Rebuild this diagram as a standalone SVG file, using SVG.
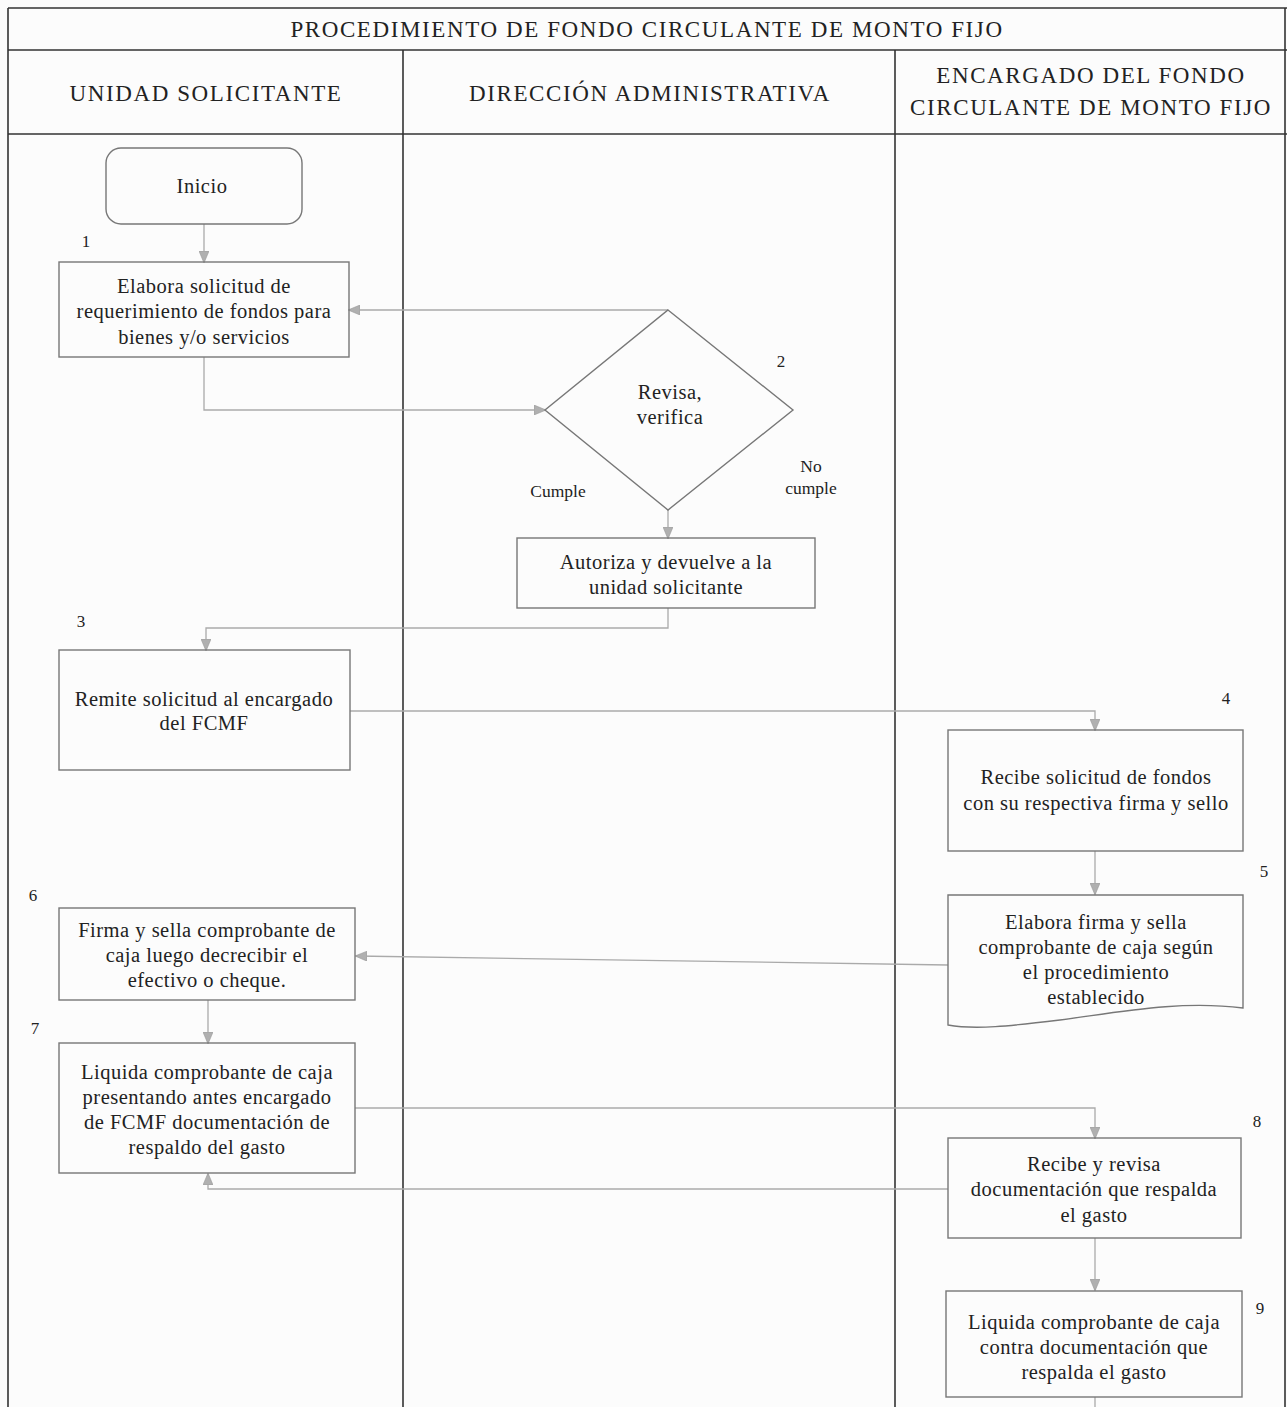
<svg xmlns="http://www.w3.org/2000/svg" width="1287" height="1407" viewBox="0 0 1287 1407">
<defs>
<marker id="ah" markerWidth="12" markerHeight="10" refX="11" refY="5" orient="auto" markerUnits="userSpaceOnUse">
<path d="M0,0 L12,5 L0,10 Z" fill="#b0b0b0" stroke="#999" stroke-width="0.6"/>
</marker>
<style>
.frame{fill:none;stroke:#333;stroke-width:1.6}
.box{fill:none;stroke:#777;stroke-width:1.4}
.con{fill:none;stroke:#aaa;stroke-width:1.3;marker-end:url(#ah)}
.plain{fill:none;stroke:#aaa;stroke-width:1.3}
.t{font-family:"Liberation Serif","DejaVu Serif",serif;font-size:20.5px;fill:#222;text-anchor:middle;letter-spacing:0.5px}
.h{font-family:"Liberation Serif","DejaVu Serif",serif;font-size:23px;fill:#222;text-anchor:middle;letter-spacing:1.6px}
.n{font-family:"Liberation Serif","DejaVu Serif",serif;font-size:17px;fill:#222;text-anchor:middle}
.s{font-family:"Liberation Serif","DejaVu Serif",serif;font-size:17.5px;fill:#222;text-anchor:middle}
</style>
</defs>
<rect x="0" y="0" width="1287" height="1407" fill="#fcfcfc"/>
<g id="frame">
<line class="frame" x1="8" y1="8" x2="1287" y2="8"/>
<line class="frame" x1="8" y1="50" x2="1287" y2="50"/>
<line class="frame" x1="8" y1="134" x2="1287" y2="134"/>
<line class="frame" x1="8" y1="8" x2="8" y2="1407"/>
<line class="frame" x1="1285" y1="8" x2="1285" y2="1407"/>
<line class="frame" x1="403" y1="50" x2="403" y2="1407"/>
<line class="frame" x1="895" y1="50" x2="895" y2="1407"/>
<text class="h" x="647" y="37">PROCEDIMIENTO DE FONDO CIRCULANTE DE MONTO FIJO</text>
<text class="h" x="206" y="101">UNIDAD SOLICITANTE</text>
<text class="h" x="650" y="101">DIRECCIÓN ADMINISTRATIVA</text>
<text class="h" x="1091" y="83">ENCARGADO DEL FONDO</text>
<text class="h" x="1091" y="115">CIRCULANTE DE MONTO FIJO</text>
</g>
<g id="connectors">
<line class="con" x1="204" y1="224" x2="204" y2="262"/>
<polyline class="con" points="204,357 204,410 545,410"/>
<line class="con" x1="668" y1="310" x2="349" y2="310"/>
<line class="con" x1="668" y1="510" x2="668" y2="538"/>
<polyline class="con" points="668,608 668,628 206,628 206,650"/>
<polyline class="con" points="350,711 1095,711 1095,730"/>
<line class="con" x1="1095" y1="851" x2="1095" y2="894"/>
<line class="con" x1="948" y1="965" x2="356" y2="956"/>
<line class="con" x1="208" y1="1000" x2="208" y2="1043"/>
<polyline class="con" points="355,1108 1095,1108 1095,1138"/>
<polyline class="con" points="948,1189 208,1189 208,1174"/>
<line class="con" x1="1095" y1="1238" x2="1095" y2="1290"/>
<line class="plain" x1="1095" y1="1397" x2="1095" y2="1407"/>
</g>
<g id="inicio">
<rect class="box" x="106" y="148" width="196" height="76" rx="15"/>
<text class="t" x="202" y="193">Inicio</text>
</g>
<g id="paso1">
<text class="n" x="86" y="247">1</text>
<rect class="box" x="59" y="262" width="290" height="95"/>
<text class="t" x="204" y="293">Elabora solicitud de</text>
<text class="t" x="204" y="318">requerimiento de fondos para</text>
<text class="t" x="204" y="344">bienes y/o servicios</text>
</g>
<g id="paso2">
<polygon class="box" points="668,310 793,410 668,510 545,410"/>
<text class="t" x="670" y="399">Revisa,</text>
<text class="t" x="670" y="424">verifica</text>
<text class="n" x="781" y="367">2</text>
<text class="s" x="558" y="497">Cumple</text>
<text class="s" x="811" y="472">No</text>
<text class="s" x="811" y="494">cumple</text>
</g>
<g id="autoriza">
<rect class="box" x="517" y="538" width="298" height="70"/>
<text class="t" x="666" y="569">Autoriza y devuelve a la</text>
<text class="t" x="666" y="594">unidad solicitante</text>
</g>
<g id="paso3">
<text class="n" x="81" y="627">3</text>
<rect class="box" x="59" y="650" width="291" height="120"/>
<text class="t" x="204" y="706">Remite solicitud al encargado</text>
<text class="t" x="204" y="730">del FCMF</text>
</g>
<g id="paso4">
<text class="n" x="1226" y="704">4</text>
<rect class="box" x="948" y="730" width="295" height="121"/>
<text class="t" x="1096" y="784">Recibe solicitud de fondos</text>
<text class="t" x="1096" y="810">con su respectiva firma y sello</text>
</g>
<g id="paso5">
<text class="n" x="1264" y="877">5</text>
<path class="box" d="M948,895 L1243,895 L1243,1008 C1180,1000 1120,1012 1060,1020 C1010,1026 975,1030 948,1025 Z"/>
<text class="t" x="1096" y="929">Elabora firma y sella</text>
<text class="t" x="1096" y="954">comprobante de caja según</text>
<text class="t" x="1096" y="979">el procedimiento</text>
<text class="t" x="1096" y="1004">establecido</text>
</g>
<g id="paso6">
<text class="n" x="33" y="901">6</text>
<rect class="box" x="59" y="908" width="296" height="92"/>
<text class="t" x="207" y="937">Firma y sella comprobante de</text>
<text class="t" x="207" y="962">caja luego decrecibir el</text>
<text class="t" x="207" y="987">efectivo o cheque.</text>
</g>
<g id="paso7">
<text class="n" x="35" y="1034">7</text>
<rect class="box" x="59" y="1043" width="296" height="130"/>
<text class="t" x="207" y="1079">Liquida comprobante de caja</text>
<text class="t" x="207" y="1104">presentando antes encargado</text>
<text class="t" x="207" y="1129">de FCMF documentación de</text>
<text class="t" x="207" y="1154">respaldo del gasto</text>
</g>
<g id="paso8">
<text class="n" x="1257" y="1127">8</text>
<rect class="box" x="948" y="1138" width="293" height="100"/>
<text class="t" x="1094" y="1171">Recibe y revisa</text>
<text class="t" x="1094" y="1196">documentación que respalda</text>
<text class="t" x="1094" y="1222">el gasto</text>
</g>
<g id="paso9">
<text class="n" x="1260" y="1314">9</text>
<rect class="box" x="946" y="1291" width="296" height="106"/>
<text class="t" x="1094" y="1329">Liquida comprobante de caja</text>
<text class="t" x="1094" y="1354">contra documentación que</text>
<text class="t" x="1094" y="1379">respalda el gasto</text>
</g>
</svg>
